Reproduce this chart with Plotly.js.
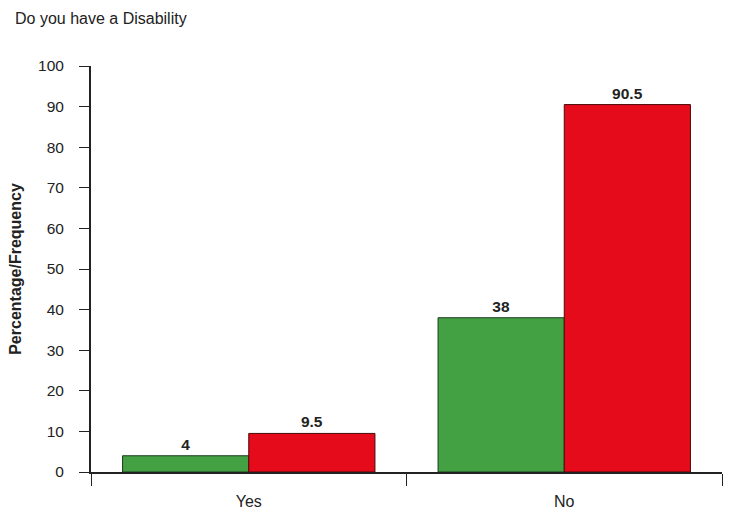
<!DOCTYPE html>
<html>
<head>
<meta charset="utf-8">
<script src="https://cdn.plot.ly/plotly-3.0.1.min.js"></script>
<style>html,body{margin:0;padding:0;background:#fff;}#chart{width:733px;height:519px;}</style>
</head>
<body>
<div id="chart"></div>
<script>
const categories = ["Yes", "No"];
const frequencyValues = [4, 38];
const percentageValues = [9.5, 90.5];
const seriesNames = ["Frequency", "Percentage"];
const yTicks = [0, 10, 20, 30, 40, 50, 60, 70, 80, 90, 100];

const FONT = "Liberation Sans, Arial, sans-serif";
const labelFont = {family: FONT, size: 15.5, color: "#222"};
const valueFont = {family: FONT, size: 15.5, color: "#222", weight: "bold"};

const traces = [
  {type: "bar", name: seriesNames[0], x: categories, y: frequencyValues,
   text: frequencyValues.map(String), textposition: "outside", cliponaxis: false,
   textfont: valueFont,
   marker: {color: "#43a043", line: {color: "#1f3a1f", width: 1}}},
  {type: "bar", name: seriesNames[1], x: categories, y: percentageValues,
   text: percentageValues.map(String), textposition: "outside", cliponaxis: false,
   textfont: valueFont,
   marker: {color: "#e60b1b", line: {color: "#4a0a0a", width: 1}}}
];

const layout = {
  width: 733, height: 519,
  margin: {l: 91, r: 11, t: 66, b: 47, pad: 0},
  paper_bgcolor: "#fff", plot_bgcolor: "#fff",
  showlegend: false,
  barmode: "group", bargap: 0.2, bargroupgap: 0,
  title: {text: "Do you have a Disability", xref: "container", yref: "container",
          x: 15/733, xanchor: "left", y: 1 - 18/519, yanchor: "middle",
          font: {family: FONT, size: 16, color: "#222"}},
  xaxis: {type: "category", range: [-0.5, 1.5], showline: true, linecolor: "#222", linewidth: 2,
          ticks: "outside", tickson: "boundaries", ticklen: 12, tickcolor: "#222", tickwidth: 1,
          showgrid: false, zeroline: false, tickfont: {family: FONT, size: 16, color: "#222"},
          ticklabelstandoff: 14},
  yaxis: {range: [0, 100], tickvals: yTicks, showline: true, linecolor: "#222", linewidth: 2,
          ticks: "outside", ticklen: 10, tickcolor: "#222", tickwidth: 1,
          showgrid: false, zeroline: false, tickfont: labelFont, ticklabelstandoff: 12,
          title: {text: "Percentage/Frequency", standoff: 12,
                  font: {family: FONT, size: 16, color: "#222", weight: "bold"}}}
};

Plotly.newPlot("chart", traces, layout, {displayModeBar: false, staticPlot: true});
</script>
</body>
</html>
